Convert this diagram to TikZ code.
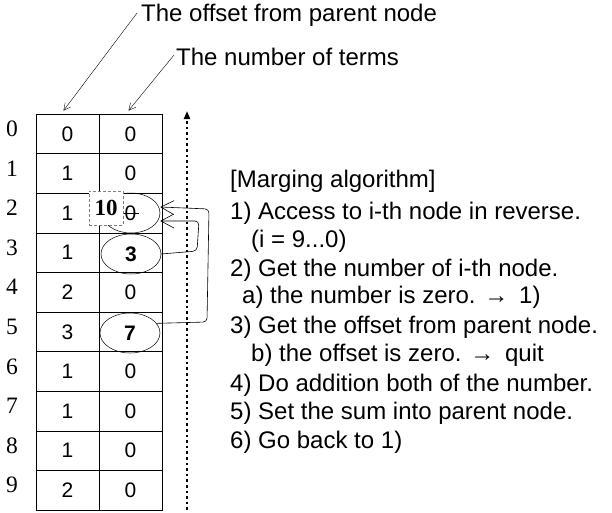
\documentclass[tikz,border=0pt]{standalone}
\usepackage{fontspec}
\setmainfont{Liberation Sans}
\newfontfamily\serifnum{Liberation Serif}
\usetikzlibrary{arrows.meta,shapes.geometric}
\tikzset{
  cell/.style={draw, line width=0.6pt, minimum width=63pt, minimum height=39.6pt, inner sep=0pt, font=\fontsize{21}{24}\selectfont},
  rowlbl/.style={inner sep=0pt, font=\serifnum\fontsize{23.5}{26}\selectfont},
  oval/.style={draw, ellipse, line width=0.5pt, minimum width=58pt, minimum height=40pt, inner sep=0pt, font=\fontsize{21}{24}\selectfont\bfseries},
  txt/.style={anchor=west, inner sep=0pt, font=\fontsize{24}{28}\selectfont},
  lblarrow/.style={line width=0.4pt, -{Straight Barb[length=7pt,width=7pt]}},
  looparrow/.style={line width=0.6pt, rounded corners=4pt, -{Straight Barb[length=13pt,width=14pt]}},
}
\begin{document}
\begin{tikzpicture}[x=1pt,y=-1pt]
\useasboundingbox (0,0) rectangle (612,512);
% table
\foreach \i/\o/\n in {0/0/0,1/1/0,2/1/0,3/1/{},4/2/0,5/3/{},6/1/0,7/1/0,8/1/0,9/2/0}{
  \node[cell] (o\i) at (67.5,{114+39.6*(\i+0.5)}) {\o};
  \node[cell] (n\i) at (130.5,{114+39.6*(\i+0.5)}) {\n};
  \node[rowlbl] (r\i) at (12,{109+39.6*(\i+0.5)}) {\i};
}
% ovals
\node[oval] (e2) at (131,213) {};
\node[oval, minimum width=60pt] (e3) at (131,254) {3};
\node[oval, minimum width=60pt] (e5) at (130,333) {7};
% strike-through of the 0 in row 2
\coordinate (s1) at (123,213);
\coordinate (s2) at (139,213);
\draw[line width=0.5pt] (s1) -- (s2);
% the "10" box
\node[draw=gray, densely dashed, fill=white, line width=0.6pt, minimum width=34pt, minimum height=34pt, inner sep=0pt,
      font=\serifnum\fontsize{23}{26}\selectfont\bfseries] (ten) at (106,208) {10};
% loop arrows
\coordinate (c3a) at (197,251);
\coordinate (c3b) at (199,221);
\draw[looparrow] (e3.east) -- (c3a) -- (c3b) -- ([yshift=-8pt]e2.east);
\coordinate (c5a) at (207,322);
\coordinate (c5b) at (209,209);
\draw[looparrow] (e5.20) -- (c5a) -- (c5b) -- ([yshift=6pt]e2.east);
% dotted arrow
\coordinate (dotb) at (187,510);
\coordinate (dott) at (187,111);
\draw[line width=2.6pt, dash pattern=on 2.6pt off 3pt, -{Triangle[length=8pt,width=6pt]}] (dotb) -- (dott);
% top labels
\node[txt] (lbl1) at (141,15) {The offset from parent node};
\node[txt] (lbl2) at (176,57) {The number of terms};
\draw[lblarrow] ([xshift=-4pt,yshift=2pt]lbl1.west) -- ([xshift=-4pt,yshift=3pt]o0.north);
\draw[lblarrow] ([xshift=-2pt,yshift=2pt]lbl2.west) -- ([xshift=-2pt,yshift=3pt]n0.north);
% algorithm text
\node[txt] (t0) at (230,181) {[Marging algorithm]};
\node[txt] (t1) at (230,213) {1) Access to i-th node in reverse.};
\node[txt] (t2) at (251,241) {(i = 9...0)};
\node[txt] (t3) at (230,270) {2) Get the number of i-th node.};
\node[txt] (t4) at (242,297) {a) the number is zero. →\, 1)};
\node[txt] (t5) at (230,327) {3) Get the offset from parent node.};
\node[txt] (t6) at (251,355) {b) the offset is zero. →\, quit};
\node[txt] (t7) at (230,385) {4) Do addition both of the number.};
\node[txt] (t8) at (230,413) {5) Set the sum into parent node.};
\node[txt] (t9) at (230,442) {6) Go back to 1)};
\end{tikzpicture}
\end{document}
